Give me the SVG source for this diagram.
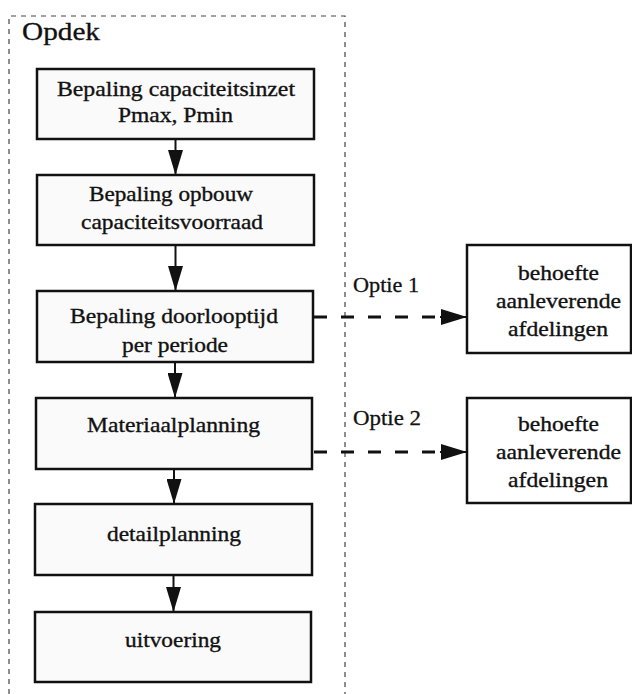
<svg xmlns="http://www.w3.org/2000/svg" width="632" height="694" viewBox="0 0 632 694">
  <style>
    .box { fill: #fafafa; stroke: #111; stroke-width: 2.5; }
    .side { fill: #ffffff; stroke: #111; stroke-width: 2.5; }
    .lbl { font-family: "Liberation Serif", "Times New Roman", serif; font-size: 21.5px; fill: #111; stroke: #111; stroke-width: 0.35; text-anchor: middle; }
    .opt { font-family: "Liberation Serif", "Times New Roman", serif; font-size: 21.5px; fill: #111; stroke: #111; stroke-width: 0.3; }
    .title { font-family: "Liberation Serif", "Times New Roman", serif; font-size: 25px; fill: #111; stroke: #111; stroke-width: 0.3; }
    .flow { stroke: #111; stroke-width: 2; fill: none; }
    .dash { stroke: #111; stroke-width: 3; fill: none; stroke-dasharray: 13 14; }
    .frame { stroke: #444; stroke-width: 1.2; fill: none; stroke-dasharray: 5 5; }
  </style>
  <defs>
    <marker id="head" viewBox="0 0 25 15" refX="25" refY="7.5" markerWidth="25" markerHeight="15" markerUnits="userSpaceOnUse" orient="auto">
      <path d="M0,0 L25,7.5 L0,15 Z" fill="#111"/>
    </marker>
    <marker id="headR" viewBox="0 0 26 16" refX="26" refY="8" markerWidth="26" markerHeight="16" markerUnits="userSpaceOnUse" orient="auto">
      <path d="M0,0 L26,8 L0,16 Z" fill="#111"/>
    </marker>
  </defs>

  <!-- Opdek frame (open at the bottom) -->
  <g id="opdek">
    <path class="frame" d="M9,694 V16 H345 V694"/>
    <text class="title" x="22" y="40" textLength="78" lengthAdjust="spacingAndGlyphs">Opdek</text>
  </g>

  <g id="n1">
    <rect class="box" x="37" y="69" width="277" height="70"/>
    <text class="lbl" x="176" y="96" textLength="238" lengthAdjust="spacingAndGlyphs">Bepaling capaciteitsinzet</text>
    <text class="lbl" x="175.5" y="122" textLength="115" lengthAdjust="spacingAndGlyphs">Pmax, Pmin</text>
  </g>
  <g id="n2">
    <rect class="box" x="37" y="175" width="277" height="70"/>
    <text class="lbl" x="171" y="201" textLength="164" lengthAdjust="spacingAndGlyphs">Bepaling opbouw</text>
    <text class="lbl" x="172" y="229" textLength="182" lengthAdjust="spacingAndGlyphs">capaciteitsvoorraad</text>
  </g>
  <g id="n3">
    <rect class="box" x="37" y="291" width="276" height="71"/>
    <text class="lbl" x="174" y="323" textLength="208" lengthAdjust="spacingAndGlyphs">Bepaling doorlooptijd</text>
    <text class="lbl" x="175" y="352" textLength="106" lengthAdjust="spacingAndGlyphs">per periode</text>
  </g>
  <g id="n4">
    <rect class="box" x="36" y="398" width="276" height="71"/>
    <text class="lbl" x="173.5" y="432" textLength="173" lengthAdjust="spacingAndGlyphs">Materiaalplanning</text>
  </g>
  <g id="n5">
    <rect class="box" x="35" y="504" width="277" height="71"/>
    <text class="lbl" x="174" y="541" textLength="134" lengthAdjust="spacingAndGlyphs">detailplanning</text>
  </g>
  <g id="n6">
    <rect class="box" x="35" y="612" width="276" height="70"/>
    <text class="lbl" x="173" y="647" textLength="96" lengthAdjust="spacingAndGlyphs">uitvoering</text>
  </g>

  <g id="r1">
    <rect class="side" x="467" y="245" width="164" height="108"/>
    <text class="lbl" x="558.5" y="280" textLength="81" lengthAdjust="spacingAndGlyphs">behoefte</text>
    <text class="lbl" x="558.5" y="308" textLength="125" lengthAdjust="spacingAndGlyphs">aanleverende</text>
    <text class="lbl" x="558" y="336" textLength="100" lengthAdjust="spacingAndGlyphs">afdelingen</text>
  </g>
  <g id="r2">
    <rect class="side" x="467" y="398" width="164" height="105"/>
    <text class="lbl" x="558.5" y="431" textLength="81" lengthAdjust="spacingAndGlyphs">behoefte</text>
    <text class="lbl" x="558.5" y="459" textLength="125" lengthAdjust="spacingAndGlyphs">aanleverende</text>
    <text class="lbl" x="558" y="487" textLength="100" lengthAdjust="spacingAndGlyphs">afdelingen</text>
  </g>

  <g id="connectors">
    <line class="flow" x1="175.5" y1="140" x2="175.5" y2="175" marker-end="url(#head)"/>
    <line class="flow" x1="175.5" y1="246" x2="175.5" y2="291" marker-end="url(#head)"/>
    <line class="flow" x1="175" y1="363" x2="175" y2="398" marker-end="url(#head)"/>
    <line class="flow" x1="174" y1="470" x2="174" y2="504" marker-end="url(#head)"/>
    <line class="flow" x1="173.5" y1="576" x2="173.5" y2="612" marker-end="url(#head)"/>
    <line class="dash" x1="314" y1="317" x2="443" y2="317"/>
    <line class="flow" x1="440" y1="317" x2="467" y2="317" marker-end="url(#headR)"/>
    <line class="dash" x1="314" y1="452" x2="443" y2="452"/>
    <line class="flow" x1="440" y1="452" x2="467" y2="452" marker-end="url(#headR)"/>
    <text class="opt" x="353" y="292" textLength="66" lengthAdjust="spacingAndGlyphs">Optie 1</text>
    <text class="opt" x="353" y="425" textLength="68" lengthAdjust="spacingAndGlyphs">Optie 2</text>
  </g>
</svg>
